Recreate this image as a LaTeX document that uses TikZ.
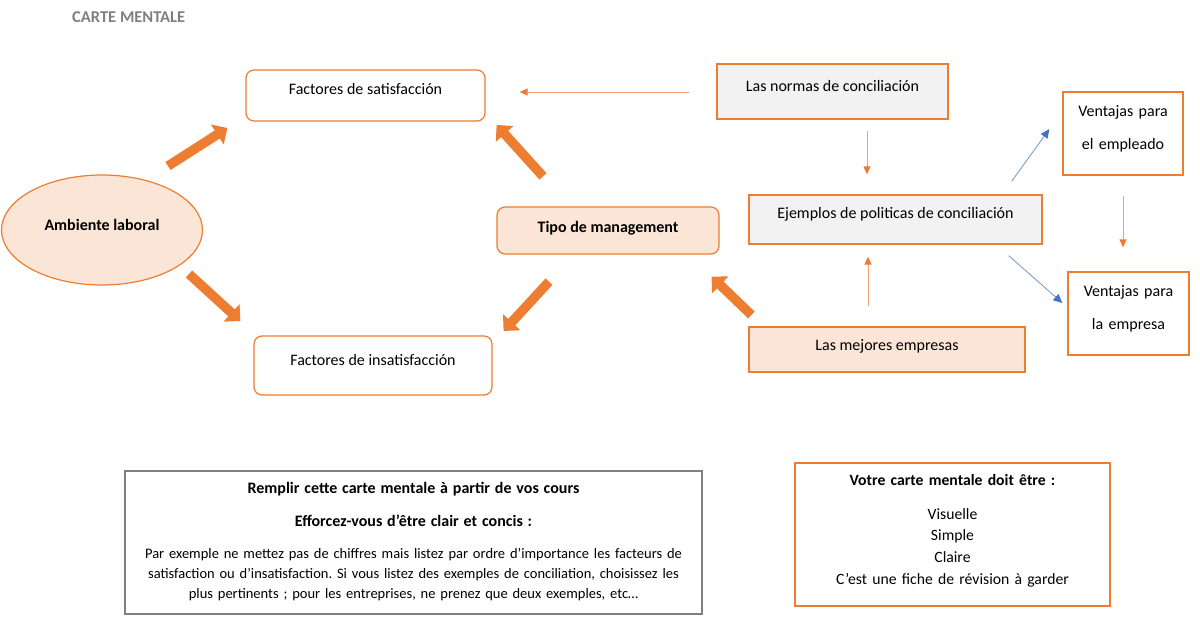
\documentclass[tikz,border=0pt]{standalone}
\usepackage{fontspec}
\setmainfont{Carlito}
\usetikzlibrary{arrows.meta,calc,shapes.geometric}
\definecolor{org}{HTML}{ED7D31}
\definecolor{orgthin}{HTML}{F0A070}
\definecolor{peach}{HTML}{FBE5D6}
\definecolor{lgray}{HTML}{F2F2F2}
\definecolor{bblue}{HTML}{4472C4}
\definecolor{bbluethin}{HTML}{7F9CCF}
\definecolor{dgray}{HTML}{7F7F7F}
\frenchspacing
\begin{document}
\begin{tikzpicture}[x=1pt,y=-1pt,
  lbl/.style={font=\fontsize{16}{19}\selectfont, text height=10pt},
  ts/.style={text depth=#1},
  sbox/.style={draw=org, line width=1.2pt, inner sep=0pt, lbl},
  rbox/.style={sbox, rounded corners=8pt},
  bigarr/.style={draw=org, line width=9.5pt, -{Triangle[length=12pt, width=23pt]}},
  thinarr/.style={draw=orgthin, line width=0.9pt, -{Triangle[length=8pt, width=7pt, color=org, fill=org]}},
  bluearr/.style={draw=bbluethin, line width=0.9pt, -{Triangle[length=9pt, width=8pt, color=bblue, fill=bblue]}}
]
\useasboundingbox (0,0) rectangle (1200,622);

% title
\node[anchor=base west, inner sep=0pt, text=dgray, font=\fontsize{16.5}{19}\selectfont\bfseries] (title) at (72,22.7) {CARTE MENTALE};

% main nodes
\node[rbox, ts=13pt, minimum width=239pt, minimum height=51pt] (fs) at (365.5,95.5) {Factores de satisfacción};
\node[rbox, ts=11pt, minimum width=238pt, minimum height=59pt] (fi) at (373,365.5) {Factores de insatisfacción};
\node[sbox, ellipse, fill=peach, ts=10pt, minimum width=201pt, minimum height=110pt, font=\fontsize{16}{19}\selectfont\bfseries] (amb) at (102,230) {Ambiente laboral};
\node[rbox, fill=peach, ts=7pt, minimum width=222pt, minimum height=47pt, font=\fontsize{16}{19}\selectfont\bfseries] (tipo) at (608,230.5) {Tipo de management};
\node[sbox, fill=lgray, ts=11pt, minimum width=231pt, minimum height=55pt] (normas) at (832.5,91.5) {Las normas de conciliación};
\node[sbox, fill=lgray, ts=13pt, minimum width=293pt, minimum height=49pt] (ej) at (895.5,219.5) {Ejemplos de politicas de conciliación};
\node[sbox, fill=peach, ts=9pt, minimum width=276pt, minimum height=45pt] (mej) at (887,349.5) {Las mejores empresas};
\node[sbox, ts=45pt, minimum width=120pt, minimum height=83pt, text width=115pt, align=center, font=\fontsize{16}{33}\selectfont] (vemp) at (1123,133.5) {Ventajas para\\el empleado};
\node[sbox, ts=45pt, minimum width=121pt, minimum height=83pt, text width=115pt, align=center, font=\fontsize{16}{33}\selectfont] (vent) at (1128.5,313.5) {Ventajas para\\la empresa};

% bottom boxes
\node[draw=dgray, line width=1.2pt, inner sep=0pt, text height=10pt, ts=109pt, minimum width=577pt, minimum height=143pt, text width=565pt, align=center, font=\fontsize{14.5}{20}\selectfont] (bl) at (413.5,542.5)
  {{\fontsize{16}{20}\selectfont\bfseries Remplir cette carte mentale à partir de vos cours}\\[13pt]
   {\fontsize{16}{20}\selectfont\bfseries Efforcez-vous d’être clair et concis :}\\[12pt]
   Par exemple ne mettez pas de chiffres mais listez par ordre d’importance les facteurs de\\
   satisfaction ou d’insatisfaction. Si vous listez des exemples de conciliation, choisissez les\\
   plus pertinents ; pour les entreprises, ne prenez que deux exemples, etc…};
\node[draw=org, line width=1.2pt, inner sep=0pt, text height=10pt, ts=109pt, minimum width=315pt, minimum height=143pt, text width=305pt, align=center, font=\fontsize{15.7}{21.7}\selectfont] (br) at (952.5,534.5)
  {\textbf{Votre carte mentale doit être :}\\[12.3pt]
   Visuelle\\
   Simple\\
   Claire\\
   C’est une fiche de révision à garder};

% big arrows
\draw[bigarr] ($(amb.center)+(66,-64)$) -- ($(fs.west)+(-18,32.5)$);
\draw[bigarr] ($(amb.center)+(87,44)$) -- ($(fi.west)+(-13,-44.5)$);
\draw[bigarr] ($(tipo.north)+(-65,-30)$) -- ($(fs.east)+(11,29.5)$);
\draw[bigarr] ($(tipo.south)+(-59,27)$) -- ($(fi.east)+(11,-34.5)$);
\draw[bigarr] ($(mej.west)+(3,-34.5)$) -- ($(tipo.south east)+(-8,22)$);

% thin arrows
\draw[thinarr] ($(normas.west)+(-27,0.5)$) -- ($(fs.east)+(34,-3.5)$);
\draw[thinarr] ($(normas.south)+(34.5,11)$) -- ($(ej.north)+(-28.5,-20)$);
\draw[thinarr] ($(mej.north)+(-19,-20)$) -- ($(ej.south)+(-27.5,12)$);
\draw[thinarr] ($(vemp.south)+(0,20)$) -- ($(vent.north)+(-5.5,-24)$);
\draw[bluearr] ($(ej.north east)+(-31,-13)$) -- ($(vemp.west)+(-13,-4.5)$);
\draw[bluearr] ($(ej.south east)+(-34,11)$) -- ($(vent.west)+(-5,-10.5)$);
\end{tikzpicture}
\end{document}
